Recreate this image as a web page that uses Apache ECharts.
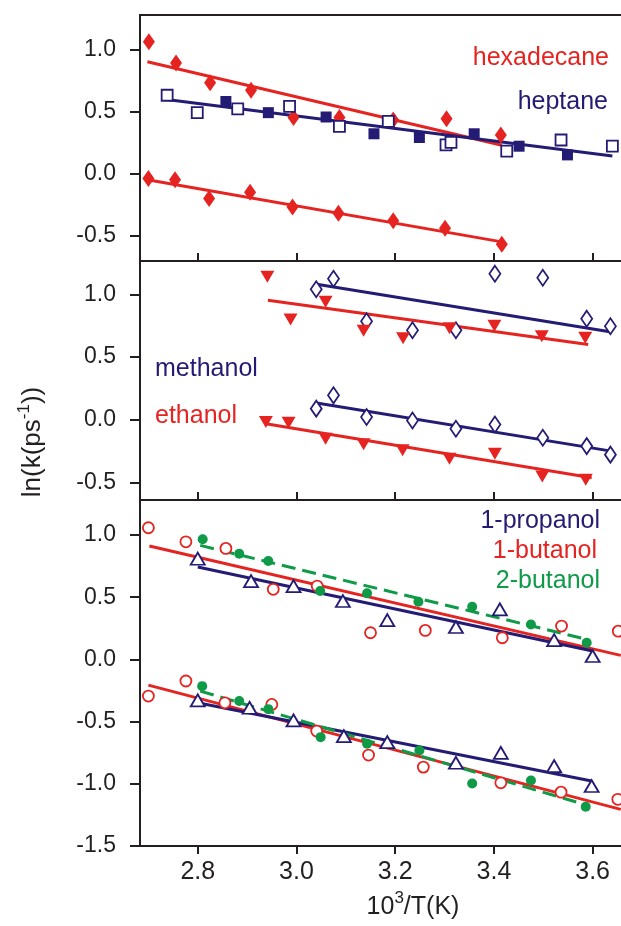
<!DOCTYPE html>
<html>
<head>
<meta charset="utf-8">
<script src="https://cdn.jsdelivr.net/npm/echarts@6/dist/echarts.min.js"></script>
<style>
  html, body { margin: 0; padding: 0; background: #ffffff; }
  #chart { width: 621px; height: 926px; }
</style>
</head>
<body>
<div id="chart"></div>
<script>
// Rate constants ln(k) vs inverse temperature, three stacked panels.

// ---- tick values ----
const xTicks = [2.8, 3.0, 3.2, 3.4, 3.6];
const yTicksUpper = [-0.5, 0.0, 0.5, 1.0];
const yTicksLower = [-1.5, -1.0, -0.5, 0.0, 0.5, 1.0];

// ---- panel 1: alkanes ----
const hexadecaneHigh = [[2.701, 1.06], [2.756, 0.89], [2.825, 0.73], [2.908, 0.67], [2.994, 0.45], [3.087, 0.45], [3.196, 0.43], [3.304, 0.44], [3.414, 0.31]];
const hexadecaneLow = [[2.700, -0.04], [2.754, -0.05], [2.823, -0.20], [2.906, -0.15], [2.992, -0.27], [3.085, -0.32], [3.196, -0.38], [3.301, -0.44], [3.416, -0.57]];
const heptaneOpen = [[2.738, 0.63], [2.799, 0.49], [2.881, 0.52], [2.986, 0.54], [3.087, 0.38], [3.186, 0.42], [3.303, 0.23], [3.313, 0.25], [3.426, 0.18], [3.536, 0.27], [3.640, 0.22]];
const heptaneFilled = [[2.857, 0.58], [2.943, 0.49], [3.060, 0.455], [3.157, 0.32], [3.249, 0.29], [3.360, 0.32], [3.451, 0.22], [3.549, 0.15]];
const hexadecaneHighFit = [[2.698, 0.90], [3.416, 0.228]];
const hexadecaneLowFit = [[2.698, -0.05], [3.416, -0.55]];
const heptaneFit = [[2.737, 0.595], [3.640, 0.142]];

// ---- panel 2: methanol / ethanol ----
const methanolHigh = [[3.040, 1.04], [3.075, 1.125], [3.142, 0.785], [3.235, 0.713], [3.323, 0.713], [3.402, 1.165], [3.499, 1.133], [3.588, 0.806], [3.636, 0.745]];
const ethanolHigh = [[2.941, 1.14], [2.988, 0.80], [3.059, 0.94], [3.136, 0.71], [3.216, 0.65], [3.310, 0.73], [3.401, 0.75], [3.497, 0.665], [3.585, 0.654]];
const methanolLow = [[3.040, 0.088], [3.075, 0.194], [3.142, 0.021], [3.235, -0.006], [3.323, -0.072], [3.402, -0.038], [3.499, -0.144], [3.588, -0.211], [3.636, -0.279]];
const ethanolLow = [[2.938, -0.019], [2.984, -0.024], [3.059, -0.152], [3.136, -0.197], [3.215, -0.245], [3.310, -0.311], [3.402, -0.271], [3.498, -0.453], [3.586, -0.479]];
const methanolHighFit = [[3.041, 1.08], [3.638, 0.70]];
const ethanolHighFit = [[2.942, 0.952], [3.591, 0.599]];
const methanolLowFit = [[3.041, 0.133], [3.638, -0.251]];
const ethanolLowFit = [[2.938, -0.032], [3.598, -0.463]];

// ---- panel 3: propanol / butanols ----
const butanol1High = [[2.700, 1.058], [2.776, 0.945], [2.857, 0.892], [2.953, 0.563], [3.042, 0.589], [3.150, 0.214], [3.261, 0.233], [3.417, 0.174], [3.537, 0.268], [3.652, 0.227]];
const propanolHigh = [[2.800, 0.809], [2.908, 0.629], [2.994, 0.589], [3.094, 0.469], [3.184, 0.316], [3.323, 0.260], [3.412, 0.402], [3.522, 0.155], [3.600, 0.027]];
const butanol2High = [[2.810, 0.965], [2.884, 0.849], [2.943, 0.790], [3.048, 0.549], [3.143, 0.531], [3.247, 0.463], [3.356, 0.423], [3.475, 0.281], [3.588, 0.133]];
const butanol1Low = [[2.700, -0.295], [2.776, -0.174], [2.855, -0.349], [2.950, -0.362], [3.041, -0.576], [3.146, -0.769], [3.257, -0.866], [3.414, -0.992], [3.536, -1.067], [3.651, -1.125]];
const propanolLow = [[2.800, -0.330], [2.905, -0.389], [2.994, -0.490], [3.096, -0.617], [3.184, -0.665], [3.323, -0.831], [3.414, -0.751], [3.522, -0.858], [3.598, -1.018]];
const butanol2Low = [[2.809, -0.215], [2.884, -0.335], [2.943, -0.400], [3.049, -0.625], [3.143, -0.678], [3.249, -0.732], [3.356, -0.997], [3.475, -0.973], [3.586, -1.185]];
const butanol1HighFit = [[2.702, 0.911], [3.657, 0.032]];
const propanolHighFit = [[2.800, 0.742], [3.600, 0.067]];
const butanol2HighFit = [[2.805, 0.916], [3.588, 0.161]];
const butanol1LowFit = [[2.700, -0.207], [3.657, -1.206]];
const propanolLowFit = [[2.800, -0.349], [3.598, -0.978]];
const butanol2LowFit = [[2.805, -0.255], [3.588, -1.171]];

// ---- styling ----
const FONT = "'Liberation Sans', Arial, Helvetica, sans-serif";
const INK = '#231f20';
const RED = '#e52421';
const NAVY = '#241c74';
const GREEN = '#0f9a48';

const panels = [
  { top: 15, height: 246, yMin: -0.704, yMax: 1.276, yTicks: yTicksUpper },
  { top: 261, height: 239, yMin: -0.641, yMax: 1.266, yTicks: yTicksUpper },
  { top: 500, height: 346, yMin: -1.5, yMax: 1.281, yTicks: yTicksLower }
];

function markers(data, panel, symbol, size, color, filled, rotate) {
  return {
    type: 'scatter', xAxisIndex: panel, yAxisIndex: panel, data: data,
    symbol: symbol, symbolSize: size, symbolRotate: rotate || 0,
    itemStyle: filled ? { color: color, borderWidth: 0, opacity: 1 }
                      : { color: '#ffffff', borderColor: color, borderWidth: 1.8, opacity: 1 },
    z: 4, silent: true
  };
}
function fitLine(data, panel, color, dashed) {
  return {
    type: 'line', xAxisIndex: panel, yAxisIndex: panel, data: data,
    symbol: 'none', silent: true, z: 3,
    lineStyle: { color: color, width: 3, type: dashed ? [14, 7] : 'solid' }
  };
}

const fmt = v => v.toFixed(1);

const option = {
  animation: false,
  backgroundColor: '#ffffff',
  grid: panels.map(p => ({
    left: 140, top: p.top, width: 502, height: p.height,
    outerBoundsMode: 'none',
    show: true, borderColor: INK, borderWidth: 2, backgroundColor: 'transparent'
  })),
  xAxis: panels.map((p, i) => ({
    type: 'value', gridIndex: i, min: 2.683, max: 3.70,
    axisLine: { show: true, onZero: false, lineStyle: { color: INK, width: 2 } },
    axisTick: { show: true, inside: i < 2, length: 8, customValues: xTicks, lineStyle: { color: INK, width: 2 } },
    axisLabel: { show: i === 2, customValues: xTicks, formatter: fmt, fontSize: 25, color: INK, fontFamily: FONT, margin: 14 },
    splitLine: { show: false }
  })),
  yAxis: panels.map((p, i) => ({
    type: 'value', gridIndex: i, min: p.yMin, max: p.yMax,
    axisLine: { show: true, onZero: false, lineStyle: { color: INK, width: 2 } },
    axisTick: { show: true, inside: false, length: 10, customValues: p.yTicks, lineStyle: { color: INK, width: 2 } },
    axisLabel: { show: true, customValues: p.yTicks, formatter: fmt, fontSize: 23, color: INK, fontFamily: FONT, margin: 24 },
    splitLine: { show: false }
  })),
  series: [
    fitLine(hexadecaneHighFit, 0, RED),
    fitLine(hexadecaneLowFit, 0, RED),
    fitLine(heptaneFit, 0, NAVY),
    markers(hexadecaneHigh, 0, 'diamond', [12, 17], RED, true),
    markers(hexadecaneLow, 0, 'diamond', [12, 17], RED, true),
    markers(heptaneOpen, 0, 'rect', 11, NAVY, false),
    markers(heptaneFilled, 0, 'rect', 11, NAVY, true),

    fitLine(methanolHighFit, 1, NAVY),
    fitLine(ethanolHighFit, 1, RED),
    fitLine(methanolLowFit, 1, NAVY),
    fitLine(ethanolLowFit, 1, RED),
    markers(methanolHigh, 1, 'diamond', [11, 16], NAVY, false),
    markers(methanolLow, 1, 'diamond', [11, 16], NAVY, false),
    markers(ethanolHigh, 1, 'triangle', [14, 12], RED, true, 180),
    markers(ethanolLow, 1, 'triangle', [14, 12], RED, true, 180),

    fitLine(butanol1HighFit, 2, RED),
    fitLine(propanolHighFit, 2, NAVY),
    fitLine(butanol2HighFit, 2, GREEN, true),
    fitLine(butanol1LowFit, 2, RED),
    fitLine(propanolLowFit, 2, NAVY),
    fitLine(butanol2LowFit, 2, GREEN, true),
    markers(butanol1High, 2, 'circle', 11, RED, false),
    markers(butanol1Low, 2, 'circle', 11, RED, false),
    markers(propanolHigh, 2, 'triangle', [14, 12], NAVY, false),
    markers(propanolLow, 2, 'triangle', [14, 12], NAVY, false),
    markers(butanol2High, 2, 'circle', 10, GREEN, true),
    markers(butanol2Low, 2, 'circle', 10, GREEN, true)
  ],
  graphic: [
    { type: 'text', right: 12, top: 46, style: { text: 'hexadecane', fill: RED, font: '25px ' + FONT } },
    { type: 'text', right: 13, top: 90, style: { text: 'heptane', fill: NAVY, font: '25px ' + FONT } },
    { type: 'text', left: 155, top: 357, style: { text: 'methanol', fill: NAVY, font: '25px ' + FONT } },
    { type: 'text', left: 155, top: 404, style: { text: 'ethanol', fill: RED, font: '25px ' + FONT } },
    { type: 'text', right: 21, top: 509, style: { text: '1-propanol', fill: NAVY, font: '25px ' + FONT } },
    { type: 'text', right: 24, top: 539, style: { text: '1-butanol', fill: RED, font: '25px ' + FONT } },
    { type: 'text', right: 21, top: 569, style: { text: '2-butanol', fill: GREEN, font: '25px ' + FONT } },
    {
      type: 'text', x: 31, y: 442, rotation: Math.PI / 2,
      style: {
        text: '{n|ln(k(ps}{s|-1}{n|))}', align: 'center', verticalAlign: 'middle',
        rich: {
          n: { fontSize: 26, fontFamily: FONT, fill: INK, lineHeight: 30, verticalAlign: 'bottom' },
          s: { fontSize: 17, fontFamily: FONT, fill: INK, lineHeight: 30, verticalAlign: 'top' }
        }
      }
    },
    {
      type: 'text', x: 413, y: 905,
      style: {
        text: '{n|10}{s|3}{n|/T(K)}', align: 'center', verticalAlign: 'middle',
        rich: {
          n: { fontSize: 25, fontFamily: FONT, fill: INK, lineHeight: 30, verticalAlign: 'bottom' },
          s: { fontSize: 17, fontFamily: FONT, fill: INK, lineHeight: 30, verticalAlign: 'top' }
        }
      }
    }
  ]
};

echarts.init(document.getElementById('chart')).setOption(option);
</script>
</body>
</html>
